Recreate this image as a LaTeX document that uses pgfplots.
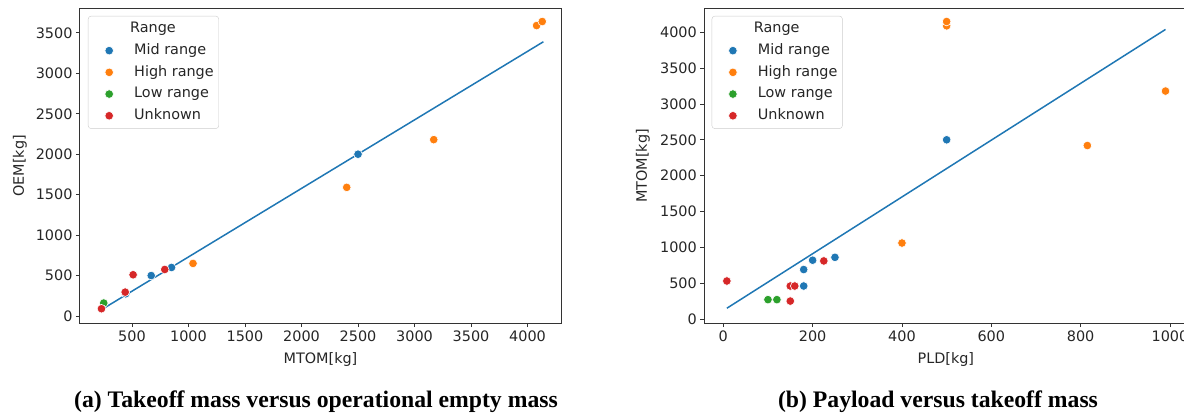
\documentclass[border=0pt]{standalone}
\usepackage{fontspec}
\setmainfont{DejaVu Sans}
\newfontfamily\capfont{Liberation Serif}
\usepackage{pgfplots}
\pgfplotsset{compat=1.18}

\definecolor{tabblue}{HTML}{1F77B4}
\definecolor{taborange}{HTML}{FF7F0E}
\definecolor{tabgreen}{HTML}{2CA02C}
\definecolor{tabred}{HTML}{D62728}

\newcommand{\fs}{\fontsize{14.4}{17}\selectfont}

\pgfplotsset{
  mpl/.style={
    scale only axis, height=314pt,
    axis line style={black!80, line width=1pt},
    every tick/.style={black!80, line width=0.9pt},
    tick align=outside, major tick length=4pt,
    xtick pos=bottom, ytick pos=left,
    font=\fs, ticklabel style={font=\fs, text=black!85},
    label style={font=\fs, text=black!85},
    /pgf/number format/assume math mode=true,
    /pgf/number format/set thousands separator={},
    scaled ticks=false,
    legend style={anchor=north west, draw=black!20, rounded corners=3pt,
      fill=white, inner sep=2pt,
      nodes={inner sep=3pt, text height=11.7pt, text depth=4pt, font=\fs, text=black!85},
      cells={anchor=west}},
    legend image code/.code={\path[draw=none, fill=none] (-19pt,0pt) -- (22pt,0pt);
      \draw[##1] plot coordinates {(0pt,0pt)};},
  },
  pts/.style={only marks, mark=*, mark size=4.3pt, color=#1,
    mark options={draw=white, fill=#1, line width=0.6pt}},
  fit/.style={tabblue, line width=1.5pt, no marks, forget plot},
}

\begin{document}
\begin{tikzpicture}
\useasboundingbox (0pt,0pt) rectangle (1184pt,-417pt);

% (a) MTOM vs OEM
\begin{axis}[mpl, at={(80pt,-323pt)}, anchor=south west, width=481pt,
  xmin=40, xmax=4296, ymin=-86.5, ymax=3795,
  xtick={500,1000,...,4000}, ytick={0,500,...,3500},
  xlabel={MTOM[kg]}, ylabel={OEM[kg]},
  xlabel style={at={(axis description cs:0.5,0)}, anchor=center, yshift=-37pt},
  ylabel style={at={(axis description cs:-0.1247,0.5)}, anchor=center, rotate=0},
  legend style={at={(0.0166,0.978)}}]
\addlegendimage{empty legend}
\addlegendentry{\hspace*{-4pt}Range}
\addplot[fit] coordinates {(250,95) (4140,3390)};
\addplot[pts=tabblue] coordinates {(445,275) (670,500) (850,600) (2500,2000)};
\addlegendentry{Mid range}
\addplot[pts=taborange] coordinates {(1040,650) (2400,1590) (3170,2180) (4080,3590) (4130,3640)};
\addlegendentry{High range}
\addplot[pts=tabgreen] coordinates {(250,160)};
\addlegendentry{Low range}
\addplot[pts=tabred] coordinates {(230,90) (440,295) (510,510) (790,575)};
\addlegendentry{Unknown}
\end{axis}

% (b) PLD vs MTOM
\begin{axis}[mpl, at={(704.3pt,-323pt)}, anchor=south west, width=483.1pt,
  xmin=-42.5, xmax=1039, ymin=-56, ymax=4325,
  xtick={0,200,...,1000}, ytick={0,500,...,4000},
  xlabel={PLD[kg]}, ylabel={MTOM[kg]},
  xlabel style={at={(axis description cs:0.5,0)}, anchor=center, yshift=-37pt},
  ylabel style={at={(axis description cs:-0.127,0.5)}, anchor=center, rotate=0},
  legend style={at={(0.0153,0.978)}}]
\addlegendimage{empty legend}
\addlegendentry{\hspace*{-4pt}Range}
\addplot[fit] coordinates {(8,150) (990,4040)};
\addplot[pts=tabblue] coordinates {(180,460) (180,690) (200,820) (250,860) (500,2500)};
\addlegendentry{Mid range}
\addplot[pts=taborange] coordinates {(400,1060) (500,4090) (500,4150) (815,2420) (990,3180)};
\addlegendentry{High range}
\addplot[pts=tabgreen] coordinates {(100,270) (120,270)};
\addlegendentry{Low range}
\addplot[pts=tabred] coordinates {(8,530) (150,250) (150,460) (160,460) (225,810)};
\addlegendentry{Unknown}
\end{axis}

\node[anchor=base, font=\capfont\bfseries\fontsize{23.7}{28}\selectfont] at (316pt,-407pt)
  {(a) Takeoff mass versus operational empty mass};
\node[anchor=base, font=\capfont\bfseries\fontsize{23.7}{28}\selectfont] at (938pt,-407pt)
  {(b) Payload versus takeoff mass};
\end{tikzpicture}
\end{document}
